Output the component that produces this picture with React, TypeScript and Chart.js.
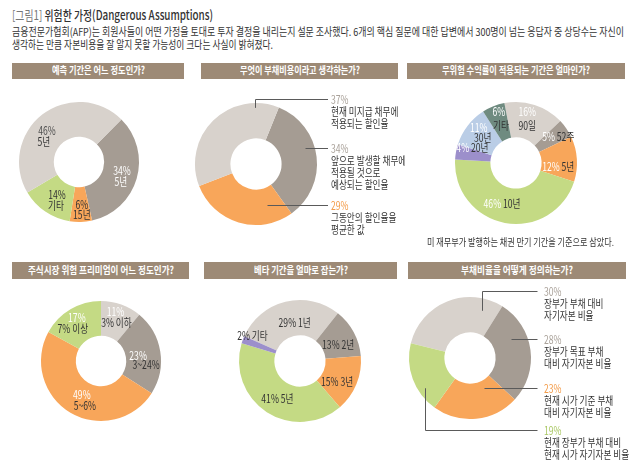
import React, { useEffect, useLayoutEffect, useRef } from 'react';
import { Chart, registerables } from 'chart.js';
Chart.register(...registerables);

const FONT_FAMILY = '"Noto Sans CJK KR", "Noto Sans", sans-serif';

// ---------------- data ----------------
const headerTag = '[그림1]';
const headerTitle = ' 위험한 가정(Dangerous Assumptions)';
const introLine1 = '금융전문가협회(AFP)는 회원사들이 어떤 가정을 토대로 투자 결정을 내리는지 설문 조사했다. 6개의 핵심 질문에 대한 답변에서 300명이 넘는 응답자 중 상당수는 자신이';
const introLine2 = '생각하는 만큼 자본비용을 잘 알지 못할 가능성이 크다는 사실이 밝혀졌다.';
const panelTitles = [
  '예측 기간은 어느 정도인가?',
  '무엇이 부채비용이라고 생각하는가?',
  '무위험 수익률이 적용되는 기간은 얼마인가?',
  '주식시장 위험 프리미엄이 어느 정도인가?',
  '베타 기간을 얼마로 잡는가?',
  '부채비율을 어떻게 정의하는가?',
];
const treasuryNote = '미 재무부가 발행하는 채권 만기 기간을 기준으로 삼았다.';

const horizonValues = [34, 6, 14, 46];
const horizonPct = ['34%', '6%', '14%', '46%'];
const horizonText = ['5년', '15년', '기타', '5년'];

const debtCostValues = [34, 29, 37];
const debtCostPct = ['34%', '29%', '37%'];
const debtCostText = [
  ['앞으로 발생할 채무에', '적용될 것으로', '예상되는 할인율'],
  ['그동안의 할인율을', '평균한 값'],
  ['현재 미지급 채무에', '적용되는 할인율'],
];

const riskFreeValues = [16, 5, 12, 46, 4, 11, 6];
const riskFreePct = ['16%', '5%', '12%', '46%', '4%', '11%', '6%'];
const riskFreeText = ['90일', '52주', '5년', '10년', '20년', '30년', '기타'];

const premiumValues = [11, 23, 49, 17];
const premiumPct = ['11%', '23%', '49%', '17%'];
const premiumText = ['3% 이하', '3~24%', '5~6%', '7% 이상'];

const betaValues = [29, 13, 15, 41, 2];
const betaPct = ['29%', '13%', '15%', '41%', '2%'];
const betaText = ['1년', '2년', '3년', '5년', '기타'];

const leverageValues = [30, 28, 23, 19];
const leveragePct = ['30%', '28%', '23%', '19%'];
const leverageText = [
  ['장부가 부채 대비', '자기자본 비율'],
  ['장부가 목표 부채', '대비 자기자본 비율'],
  ['현재 시가 기준 부채', '대비 자기자본 비율'],
  ['현재 장부가 부채 대비', '현재 시가 자기자본 비율'],
];

// ---------------- styles ----------------
const LIGHT = '#d8d2cc';
const DARK = '#a59c93';
const ORANGE = '#f8a65a';
const GREEN = '#c4da84';
const BLUE = '#bacde6';
const PURPLE = '#9c8fcb';
const TEAL = '#6f8b80';
const BAR = '#9d8a76';
const WHITE = '#ffffff';
const INK = '#333333';
const GRAYPCT = '#a9a199';
const ORANGEPCT = '#f39b48';
const GREENPCT = '#a9c762';

const LABEL_SIZE = 11.5;
const LABEL_SX = 0.75;
const LABEL_FONT = `${LABEL_SIZE}px ${FONT_FAMILY}`;

type LabelSpec =
  | { kind: 'stack'; p: [number, number]; d: [number, number]; pc: string; dc: string }
  | { kind: 'inline'; o: [number, number]; pc: string; dc: string };
type LeaderSpec = { t: number; rf: number; elbowDy?: number; pc: string };
type Panel = {
  rect: [number, number, number, number];
  center: [number, number];
  r: number;
  rotation: number;
  values: number[];
  colors: string[];
  pct: string[];
  text: (string | string[])[];
  labels?: LabelSpec[];
  leaders?: LeaderSpec[];
  lineEnd?: number;
  textX?: number;
  lineGap?: number;
};

const st = (p: [number, number], d: [number, number], pc = INK, dc = INK): LabelSpec => ({ kind: 'stack', p, d, pc, dc });
const il = (o: [number, number], pc = INK, dc = INK): LabelSpec => ({ kind: 'inline', o, pc, dc });

const panels: Panel[] = [
  {
    rect: [0, 82, 200, 172], center: [79, 162], r: 60, rotation: 45,
    values: horizonValues, colors: [DARK, ORANGE, GREEN, LIGHT], pct: horizonPct, text: horizonText,
    labels: [st([2, -3], [1, 8], WHITE, WHITE), st([1.5, 0], [1.5, 10]), st([2, -3], [1, 8]), st([-6, 2], [-9, 13], '#505050')],
  },
  {
    rect: [190, 82, 215, 172], center: [256, 164], r: 61, rotation: 22,
    values: debtCostValues, colors: [DARK, ORANGE, LIGHT], pct: debtCostPct, text: debtCostText,
    leaders: [
      { t: 0.405, rf: 0.85, pc: GRAYPCT },
      { t: 0.2, rf: 0.7, pc: ORANGEPCT },
      { t: 0.83, rf: 0.92, elbowDy: -65, pc: GRAYPCT },
    ],
    lineEnd: 72, textX: 75, lineGap: 12,
  },
  {
    rect: [405, 82, 235, 150], center: [516, 163], r: 61, rotation: -11,
    values: riskFreeValues, colors: [LIGHT, DARK, ORANGE, GREEN, PURPLE, BLUE, TEAL], pct: riskFreePct, text: riskFreeText,
    labels: [
      st([-2, -10], [-2, 4], WHITE), il([6.5, -2], WHITE), il([-1, 6], WHITE), il([-6, -2], WHITE),
      il([-1, -7], WHITE), st([-3, -9], [1, 1], WHITE), st([-1, -11], [1, 3], WHITE),
    ],
  },
  {
    rect: [0, 282, 200, 182], center: [101, 361], r: 60, rotation: 0,
    values: premiumValues, colors: [LIGHT, DARK, ORANGE, GREEN], pct: premiumPct, text: premiumText,
    labels: [st([0, -9], [1, 2], WHITE), st([-5, 1], [3, 10], WHITE), st([2.5, -3.5], [5.5, 7.5], WHITE), st([-2.5, -6.5], [-6.5, 4.5], WHITE)],
  },
  {
    rect: [195, 282, 210, 182], center: [300, 361], r: 61, rotation: 294,
    values: betaValues, colors: [LIGHT, DARK, ORANGE, GREEN, PURPLE], pct: betaPct, text: betaText,
    labels: [il([5, 4]), il([0, 4]), il([-3, 4]), il([1, 1]), il([-7, -10])],
  },
  {
    rect: [400, 282, 240, 182], center: [470, 358], r: 61, rotation: 284,
    values: leverageValues, colors: [LIGHT, DARK, ORANGE, GREEN], pct: leveragePct, text: leverageText,
    leaders: [
      { t: 0.84, rf: 0.8, elbowDy: -67, pc: GRAYPCT },
      { t: 0.33, rf: 0.74, pc: GRAYPCT },
      { t: 0.26, rf: 0.54, pc: ORANGEPCT },
      { t: 0.3, rf: 0.89, elbowDy: 72, pc: GREENPCT },
    ],
    lineEnd: 67.5, textX: 74, lineGap: 12.3,
  },
];

// ---------------- drawing helpers ----------------
function textW(ctx: CanvasRenderingContext2D, s: string) {
  ctx.font = LABEL_FONT;
  return ctx.measureText(s).width * LABEL_SX;
}
function drawText(ctx: CanvasRenderingContext2D, s: string, x: number, y: number, color: string, align: CanvasTextAlign) {
  ctx.save();
  ctx.font = LABEL_FONT;
  ctx.fillStyle = color;
  ctx.textBaseline = 'middle';
  ctx.textAlign = align;
  ctx.translate(x, y);
  ctx.scale(LABEL_SX, 1);
  ctx.fillText(s, 0, 0);
  ctx.restore();
}

function makeAnnotPlugin(p: Panel) {
  return {
    id: 'annot',
    afterDatasetsDraw(chart: any) {
      const ctx: CanvasRenderingContext2D = chart.ctx;
      const arcs = chart.getDatasetMeta(0).data;
      arcs.forEach((arc: any, i: number) => {
        const a = arc.getProps(['x', 'y', 'startAngle', 'endAngle', 'innerRadius', 'outerRadius'], true);
        if (p.labels) {
          const spec = p.labels[i];
          const mid = arc.tooltipPosition(true);
          const desc = p.text[i] as string;
          if (spec.kind === 'stack') {
            drawText(ctx, p.pct[i], mid.x + spec.p[0], mid.y + spec.p[1], spec.pc, 'center');
            drawText(ctx, desc, mid.x + spec.d[0], mid.y + spec.d[1], spec.dc, 'center');
          } else {
            const w1 = textW(ctx, p.pct[i]);
            const ws = textW(ctx, ' ');
            const w2 = textW(ctx, desc);
            const x0 = mid.x + spec.o[0] - (w1 + ws + w2) / 2;
            const y0 = mid.y + spec.o[1];
            drawText(ctx, p.pct[i], x0, y0, spec.pc, 'left');
            drawText(ctx, desc, x0 + w1 + ws, y0, spec.dc, 'left');
          }
        }
        if (p.leaders) {
          const L = p.leaders[i];
          const ang = a.startAngle + L.t * (a.endAngle - a.startAngle);
          const rad = a.outerRadius * L.rf;
          const sx = Math.round(a.x + Math.cos(ang) * rad) + 0.5;
          const sy = a.y + Math.sin(ang) * rad;
          const hy = Math.round(L.elbowDy != null ? a.y + L.elbowDy : sy) + 0.5;
          ctx.save();
          ctx.strokeStyle = '#5a5a5a';
          ctx.lineWidth = 1;
          ctx.beginPath();
          if (L.elbowDy != null) {
            ctx.moveTo(sx, sy);
            ctx.lineTo(sx, hy);
          } else {
            ctx.moveTo(sx, hy);
          }
          ctx.lineTo(a.x + (p.lineEnd as number), hy);
          ctx.stroke();
          ctx.restore();
          const tx = a.x + (p.textX as number);
          drawText(ctx, p.pct[i], tx, hy, L.pc, 'left');
          (p.text[i] as string[]).forEach((line, k) => {
            drawText(ctx, line, tx, hy + (k + 1) * (p.lineGap as number), INK, 'left');
          });
        }
      });
    },
  };
}

// ---------------- components ----------------
function FitText(props: { x: number; y: number; w: number; size: number; style?: React.CSSProperties; children: React.ReactNode }) {
  const ref = useRef<HTMLDivElement>(null);
  useLayoutEffect(() => {
    const fit = () => {
      const el = ref.current;
      if (!el) return;
      el.style.transform = 'none';
      const nat = el.getBoundingClientRect().width;
      if (nat > 0) el.style.transform = `scaleX(${props.w / nat})`;
    };
    fit();
    if ((document as any).fonts) (document as any).fonts.ready.then(fit);
  });
  return (
    <div
      ref={ref}
      style={{
        position: 'absolute', left: props.x, top: props.y - props.size * 0.56, fontSize: props.size,
        lineHeight: 1, whiteSpace: 'nowrap', transformOrigin: '0 0', fontFamily: FONT_FAMILY, ...props.style,
      }}
    >
      {props.children}
    </div>
  );
}

function Donut({ p }: { p: Panel }) {
  const ref = useRef<HTMLCanvasElement>(null);
  useEffect(() => {
    const [x, y, w, h] = p.rect;
    const [cx, cy] = p.center;
    const chart = new Chart(ref.current as HTMLCanvasElement, {
      type: 'doughnut',
      data: {
        labels: p.pct,
        datasets: [{ data: p.values, backgroundColor: p.colors, borderWidth: 0, hoverOffset: 0 } as any],
      },
      options: {
        responsive: false,
        animation: false,
        devicePixelRatio: 1,
        cutout: '42%',
        rotation: p.rotation,
        events: [],
        layout: {
          padding: { left: cx - p.r - x, top: cy - p.r - y, right: x + w - (cx + p.r), bottom: y + h - (cy + p.r) },
        },
        plugins: { legend: { display: false }, tooltip: { enabled: false }, title: { display: false } },
      } as any,
      plugins: [makeAnnotPlugin(p) as any],
    });
    return () => chart.destroy();
  }, [p]);
  const [x, y, w, h] = p.rect;
  return <canvas ref={ref} width={w} height={h} style={{ position: 'absolute', left: x, top: y, width: w, height: h }} />;
}

const barRects: [number, number, number, number][] = [
  [12, 63, 172, 16],
  [201, 63, 197, 16],
  [407, 63, 218, 16],
  [12, 262, 177, 17],
  [204, 262, 193, 17],
  [408, 262, 218, 17],
];
const barTextW = [93, 120, 148, 146, 94, 112];

export default function App() {
  return (
    <div style={{ position: 'absolute', left: 0, top: 0, width: 640, height: 464, background: '#fff', overflow: 'hidden', fontFamily: FONT_FAMILY }}>
      <FitText x={12} y={15} w={201} size={13} style={{ color: '#333', fontWeight: 500 }}>
        <span style={{ color: '#777', fontWeight: 400 }}>{headerTag}</span>
        {headerTitle}
      </FitText>
      <FitText x={12} y={32} w={612} size={11} style={{ color: INK }}>{introLine1}</FitText>
      <FitText x={12} y={45} w={261} size={11} style={{ color: INK }}>{introLine2}</FitText>
      {barRects.map((b, i) => (
        <div key={'b' + i} style={{ position: 'absolute', left: b[0], top: b[1], width: b[2], height: b[3], background: BAR }} />
      ))}
      {barRects.map((b, i) => (
        <FitText key={'t' + i} x={b[0] + (b[2] - barTextW[i]) / 2} y={b[1] + b[3] / 2} w={barTextW[i]} size={10.5} style={{ color: '#fff', fontWeight: 700 }}>
          {panelTitles[i]}
        </FitText>
      ))}
      {panels.map((p, i) => (
        <Donut key={'d' + i} p={p} />
      ))}
      <FitText x={427} y={243} w={187} size={10} style={{ color: INK }}>{treasuryNote}</FitText>
    </div>
  );
}
